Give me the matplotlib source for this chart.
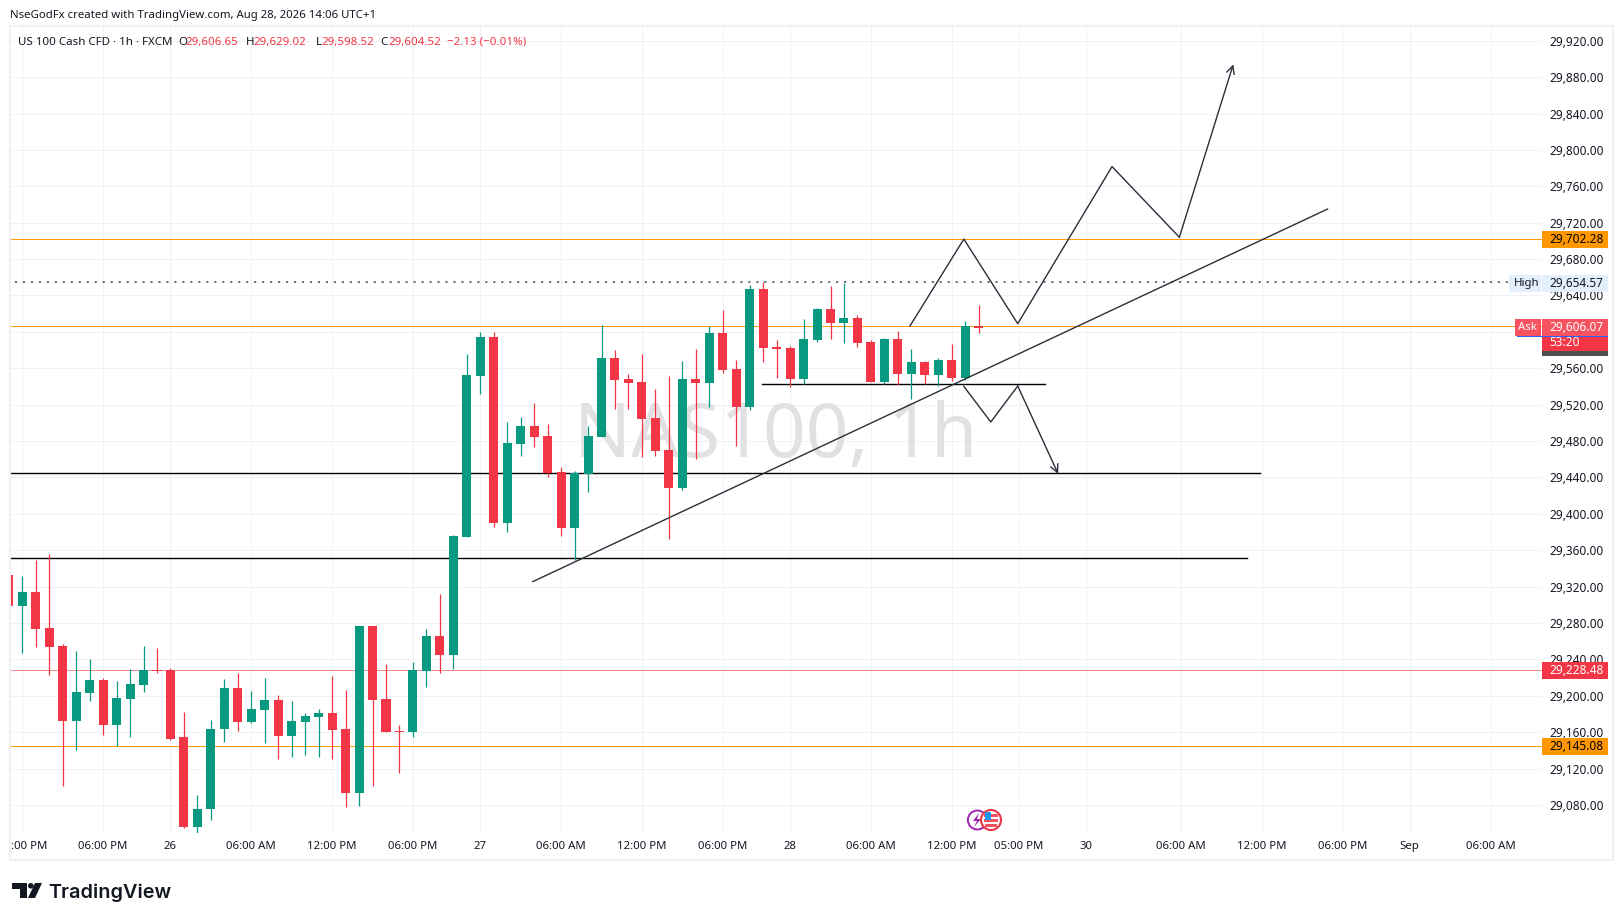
import matplotlib
matplotlib.use('Agg')
import matplotlib.pyplot as plt
import matplotlib.transforms as mtransforms
from matplotlib.patches import Rectangle, Circle, Polygon

plt.rcParams['font.family'] = ['Noto Sans', 'DejaVu Sans']

W, H = 1623, 921
UP = '#089981'
DOWN = '#F23645'
TEXT = '#131722'
GRID = '#F0F1F3'

# hourly candles, bar index -1 (cut off at the left edge) to 71
opens = [29333, 29298.5, 29314, 29275, 29255, 29172, 29203, 29217, 29168, 29196, 29212, 29228, 29228, 29155, 29056, 29076,
         29163.5, 29208.5, 29171, 29184.5, 29195.5, 29156, 29171, 29176.5, 29181, 29163.5, 29093, 29277, 29196, 29161, 29160,
         29227.5, 29266, 29245, 29375, 29551.5, 29594, 29390, 29477, 29496.5, 29485.5, 29446, 29384.5, 29444, 29484.5, 29571,
         29548, 29545, 29505, 29470, 29428, 29548, 29544, 29599, 29559, 29517, 29647, 29583.4, 29582, 29548, 29591, 29625,
         29610, 29615, 29589, 29545, 29592, 29554, 29567, 29552.6, 29569, 29549, 29606.65]
closes = [29299, 29314, 29273, 29254, 29172, 29204, 29217, 29168, 29198, 29213, 29228, 29227, 29153, 29056, 29076, 29164,
          29208.5, 29171, 29185, 29195.5, 29156, 29172, 29178, 29181, 29162, 29093, 29277, 29195.5, 29160, 29160.5, 29228,
          29266, 29245, 29375.5, 29552.6, 29594, 29390, 29478, 29496.5, 29484.5, 29444.5, 29384.5, 29444.5, 29485.5, 29571, 29547,
          29544, 29504, 29469, 29428, 29548, 29544, 29599, 29558, 29517, 29647, 29582, 29581, 29548, 29592, 29625, 29610,
          29615, 29588, 29545, 29592, 29554, 29567, 29552.6, 29569, 29549, 29606.5, 29604.52]
highs = [29333, 29332, 29349, 29356, 29257, 29249, 29240.5, 29219.5, 29216, 29230, 29255, 29253, 29231, 29182, 29091, 29173,
         29219, 29225, 29205, 29219.5, 29201, 29194, 29181, 29185, 29222, 29206, 29277, 29277, 29235, 29168, 29237,
         29273, 29312, 29377, 29576, 29600, 29600, 29501, 29506, 29522, 29499, 29451.5, 29447, 29496.5, 29607.5, 29580,
         29554, 29576, 29537, 29551.5, 29568, 29581, 29606.5, 29624, 29569, 29651.5, 29654.57, 29591, 29584.5, 29614, 29626, 29650.4,
         29653.4, 29618.5, 29591, 29593, 29601, 29581, 29568, 29571, 29587, 29612, 29629.02]
lows = [29299, 29247, 29254, 29223, 29101, 29140, 29194, 29157, 29145, 29155, 29204, 29225, 29151, 29055, 29049.5, 29063,
        29149, 29161, 29170, 29148, 29130, 29133, 29135, 29133, 29130, 29078, 29079, 29101, 29160, 29115, 29155,
        29210, 29225, 29230, 29375, 29532, 29385.5, 29380, 29464, 29473.5, 29440.5, 29375.5, 29349, 29424, 29484.5, 29515,
        29515, 29462.5, 29464, 29372, 29426, 29460, 29517, 29555, 29474.5, 29514, 29567, 29549, 29539.4, 29542.7, 29589, 29592,
        29588, 29583, 29545, 29542.7, 29541.6, 29526, 29542.7, 29540.5, 29546, 29547, 29598.52]
first_bar = -1

price_ticks = list(range(29080, 29921, 40))
time_ticks = [0, 6, 11, 17, 23, 29, 34, 40, 46, 52, 57, 63, 69, 74, 79, 86, 92, 98, 103, 109]
time_labels = ['', '06:00 PM', '26', '06:00 AM', '12:00 PM', '06:00 PM', '27', '06:00 AM', '12:00 PM', '06:00 PM',
               '28', '06:00 AM', '12:00 PM', '05:00 PM', '30', '06:00 AM', '12:00 PM', '06:00 PM', 'Sep', '06:00 AM']
day_labels = ['26', '27', '28', '30', 'Sep']

# drawn levels and price paths, as bar index and price
resistance_high = 29702.28
ask_price = 29606.07
session_high = 29654.57
session_high_end = 110.3
pink_level = 29228.48
orange_low = 29145.08
support_a = 29444.5
support_a_end = 91.85
support_b = 29351
support_b_end = 90.9
range_level = 29542.3
range_start, range_end = 54.9, 75.9
trend_x = [37.9, 96.9]
trend_y = [29325.5, 29735]
up_x = [65.9, 69.9, 73.9, 80.9, 85.9, 89.9]
up_y = [29606.5, 29702, 29609, 29781.7, 29704, 29894]
down_x = [69.9, 71.9, 73.9, 76.9]
down_y = [29540, 29501, 29540.5, 29444]

fig = plt.figure(figsize=(W / 100, H / 100), dpi=100, facecolor='white')
ax = fig.add_axes([10 / W, 1 - 833 / H, (1542 - 10) / W, (833 - 26) / H])
ax.set_xlim((10 - 22.3) / 13.47, (1542 - 22.3) / 13.47)
ax.set_ylim(29720 - (833 - 222.7) / 0.9098, 29720 + (222.7 - 26) / 0.9098)
for s in ax.spines.values():
    s.set_visible(False)

ax.set_xticks(time_ticks)
ax.set_xticklabels(time_labels)
ax.set_yticks(price_ticks)
ax.set_yticklabels([f'{v:,.2f}' for v in price_ticks])
ax.yaxis.tick_right()
ax.tick_params(axis='both', length=0, labelsize=8.5, labelcolor=TEXT)
ax.tick_params(axis='y', pad=5.2)
ax.tick_params(axis='x', pad=5.6, labelsize=8.2)
for lab in ax.get_xticklabels():
    if lab.get_text() in day_labels:
        lab.set_fontweight('medium')
# just under 1px so the lines snap onto a single pixel row
ax.grid(True, color=GRID, lw=0.7)
ax.set_axisbelow(True)

fig_trans = mtransforms.Affine2D().scale(1, -1).translate(0, H)
ax.text(574, 457, 'NAS100, 1h', transform=fig_trans, fontsize=54, color='#E1E1E1', va='baseline', ha='left', zorder=1)

# levels
ax.axhline(resistance_high, color='#FF9800', lw=0.7, zorder=2)
ax.axhline(ask_price, color='#FF9800', lw=0.7, zorder=2)
ax.axhline(pink_level, color='#F5868F', lw=0.7, zorder=2)
ax.axhline(orange_low, color='#FF9800', lw=0.7, zorder=2)
ax.plot([first_bar - 1, session_high_end], [session_high, session_high], color='#6A6D78', lw=1.4, ls=(0, (1.1, 3.0)), zorder=2)
ax.plot([first_bar - 1, support_a_end], [support_a, support_a], color='black', lw=1, zorder=2)
ax.plot([first_bar - 1, support_b_end], [support_b, support_b], color='black', lw=1, zorder=2)
ax.plot([range_start, range_end], [range_level, range_level], color='black', lw=1, zorder=2)
ax.plot(trend_x, trend_y, color='#2A2E39', lw=1, zorder=4)
ax.plot(up_x[:-1], up_y[:-1], color='#2A2E39', lw=1, zorder=4)
ax.plot(down_x[:-1], down_y[:-1], color='#2A2E39', lw=1, zorder=4)
for xs, ys in [(up_x, up_y), (down_x, down_y)]:
    ax.annotate('', xy=(xs[-1], ys[-1]), xytext=(xs[-2], ys[-2]), zorder=4,
                arrowprops=dict(arrowstyle='->', color='#2A2E39', lw=1, mutation_scale=14, shrinkA=0, shrinkB=0))

# candles
bars = [first_bar + n for n in range(len(opens))]
colors = [UP if c > o else DOWN for o, c in zip(opens, closes)]
ax.vlines(bars, lows, highs, colors=colors, lw=0.9, zorder=3)
ax.bar(bars, [abs(c - o) for o, c in zip(opens, closes)], bottom=[min(o, c) for o, c in zip(opens, closes)],
       width=0.67, color=colors, lw=0, zorder=3)


def box(x0, y0, x1, y1, color, **kw):
    fig.add_artist(Rectangle((x0, y0), x1 - x0, y1 - y0, transform=fig_trans, facecolor=color, edgecolor='none', **kw))


def label(x, y, s, color=TEXT, size=8.5, **kw):
    kw.setdefault('va', 'center')
    fig.text(x, y, s, transform=fig_trans, color=color, fontsize=size, **kw)


# chart frame
fig.add_artist(Rectangle((10, 26), 1603, 834, transform=fig_trans, facecolor='none', edgecolor='#F0F1F4', lw=1.5))
label(11, 846.5, ':00 PM', size=8.2)

# price tags on the scale
box(1542, 231, 1608, 248, '#FF9800')
label(1549, 239, '29,702.28', color='black')
box(1509, 275, 1541, 292, '#E3EFFD')
box(1542, 275, 1608, 292, '#E3EFFD')
label(1513.5, 283, 'High', size=8.2)
label(1549, 283, '29,654.57')
box(1542, 351, 1608, 356, '#4F4F4F')
box(1542, 336, 1608, 351, DOWN)
box(1515, 319, 1541, 336, '#F7525F')
box(1542, 319, 1608, 336, '#F7525F')
box(1517, 335.5, 1608, 336.5, '#2962FF')
label(1518, 327.5, 'Ask', color='white', size=8.2)
label(1549, 327, '29,606.07', color='white')
label(1549, 342, '53:20', color='white')
box(1542, 662, 1608, 679, DOWN)
label(1549, 670, '29,228.48', color='white')
box(1542, 738, 1608, 755, '#FF9800')
label(1549, 746, '29,145.08', color='black')

# header and OHLC legend
label(10, 15.5, 'NseGodFx created with TradingView.com, Aug 28, 2026 14:06 UTC+1', size=8.2)
label(18, 42, 'US 100 Cash CFD · 1h · FXCM', size=8.3)
for x, s in [(178, 'O'), (245.5, 'H'), (316, 'L'), (380, 'C')]:
    label(x, 42, s, size=8.3)
for x, s in [(185, '29,606.65'), (253, '29,629.02'), (321.5, '29,598.52'), (388.5, '29,604.52'), (447, '−2.13 (−0.01%)')]:
    label(x, 42, s, color=DOWN, size=8.3)

# event markers
fig.add_artist(Circle((977.4, 820), 9.5, transform=fig_trans, facecolor='white', edgecolor='#9C27B0', lw=1.4))
fig.add_artist(Polygon([(979, 813), (973, 821), (977, 821), (974, 827), (981, 819), (977, 819)], transform=fig_trans,
                       facecolor='#9C27B0', edgecolor='none'))
fig.add_artist(Circle((991, 820), 10, transform=fig_trans, facecolor='white', edgecolor=DOWN, lw=1.5))
box(984, 813.5, 998, 816.5, '#F7525F')
box(984, 819, 998, 822, '#F7525F')
box(985, 824, 997, 827, '#F7525F')
box(985, 812, 991, 820, '#2196F3')

# logo
logo = '#131722'
fig.add_artist(Polygon([(12, 883), (27, 883), (27, 898), (20, 898), (20, 889), (12, 889)], transform=fig_trans,
                       facecolor=logo, edgecolor='none'))
fig.add_artist(Circle((30.8, 885.8), 2.8, transform=fig_trans, facecolor=logo, edgecolor='none'))
fig.add_artist(Polygon([(35, 883), (42, 883), (35, 898), (28, 898)], transform=fig_trans, facecolor=logo, edgecolor='none'))
label(48.5, 898, 'TradingView', color=logo, size=14.3, family='Inter', fontweight='semibold', va='baseline')

fig.savefig('out.png', dpi=100)
